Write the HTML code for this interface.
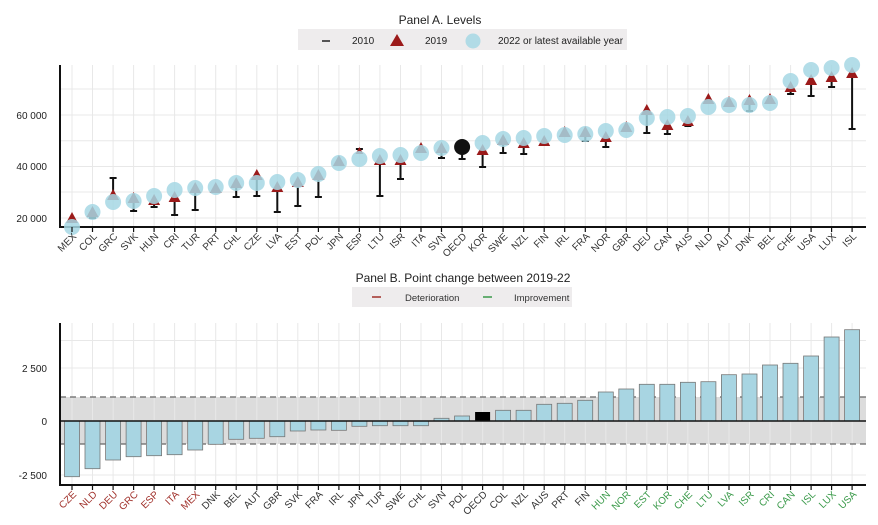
<!DOCTYPE html>
<html><head><meta charset="utf-8"><style>
body{margin:0;background:#fff;}
svg{display:block;font-family:"Liberation Sans",Arial,sans-serif;}
.g{stroke:#e8e8e8;stroke-width:1}
.lab{font-size:10px;fill:#333;text-anchor:end}
.r{fill:#a0302a}.gr{fill:#3a9a4a}
.tri{fill:#9b1a1a}
.c{fill:#a6d8e4;opacity:.85}
.st{stroke:#111;stroke-width:2}
.bar{fill:#a8d5e2;stroke:#777;stroke-width:.8}
</style></head><body>
<svg width="878" height="525" viewBox="0 0 878 525">
<text x="440" y="24" font-size="12" text-anchor="middle" fill="#222">Panel A. Levels</text>
<rect x="298" y="29" width="329" height="21" fill="#eeeced"/>
<line x1="322" y1="41" x2="330" y2="41" stroke="#222" stroke-width="1.5"/>
<text x="352" y="44" font-size="10" fill="#222">2010</text>
<path d="M397,34 L404,46 L390,46Z" class="tri"/>
<text x="425" y="44" font-size="10" fill="#222">2019</text>
<circle cx="473" cy="41" r="7.5" class="c"/>
<text x="498" y="44" font-size="10" fill="#222">2022  or latest available year</text>
<g class="g">
<line x1="60" y1="218" x2="866" y2="218"/><line x1="60" y1="192" x2="866" y2="192"/><line x1="60" y1="166.5" x2="866" y2="166.5"/><line x1="60" y1="140.7" x2="866" y2="140.7"/><line x1="60" y1="115" x2="866" y2="115"/><line x1="60" y1="89" x2="866" y2="89"/>
<line x1="72" y1="65" x2="72" y2="227"/><line x1="92.5" y1="65" x2="92.5" y2="227"/><line x1="113.1" y1="65" x2="113.1" y2="227"/><line x1="133.6" y1="65" x2="133.6" y2="227"/><line x1="154.1" y1="65" x2="154.1" y2="227"/><line x1="174.6" y1="65" x2="174.6" y2="227"/><line x1="195.2" y1="65" x2="195.2" y2="227"/><line x1="215.7" y1="65" x2="215.7" y2="227"/><line x1="236.2" y1="65" x2="236.2" y2="227"/><line x1="256.8" y1="65" x2="256.8" y2="227"/><line x1="277.3" y1="65" x2="277.3" y2="227"/><line x1="297.8" y1="65" x2="297.8" y2="227"/><line x1="318.4" y1="65" x2="318.4" y2="227"/><line x1="338.9" y1="65" x2="338.9" y2="227"/><line x1="359.4" y1="65" x2="359.4" y2="227"/><line x1="379.9" y1="65" x2="379.9" y2="227"/><line x1="400.5" y1="65" x2="400.5" y2="227"/><line x1="421" y1="65" x2="421" y2="227"/><line x1="441.5" y1="65" x2="441.5" y2="227"/><line x1="462.1" y1="65" x2="462.1" y2="227"/><line x1="482.6" y1="65" x2="482.6" y2="227"/><line x1="503.1" y1="65" x2="503.1" y2="227"/><line x1="523.7" y1="65" x2="523.7" y2="227"/><line x1="544.2" y1="65" x2="544.2" y2="227"/><line x1="564.7" y1="65" x2="564.7" y2="227"/><line x1="585.3" y1="65" x2="585.3" y2="227"/><line x1="605.8" y1="65" x2="605.8" y2="227"/><line x1="626.3" y1="65" x2="626.3" y2="227"/><line x1="646.8" y1="65" x2="646.8" y2="227"/><line x1="667.4" y1="65" x2="667.4" y2="227"/><line x1="687.9" y1="65" x2="687.9" y2="227"/><line x1="708.4" y1="65" x2="708.4" y2="227"/><line x1="729" y1="65" x2="729" y2="227"/><line x1="749.5" y1="65" x2="749.5" y2="227"/><line x1="770" y1="65" x2="770" y2="227"/><line x1="790.6" y1="65" x2="790.6" y2="227"/><line x1="811.1" y1="65" x2="811.1" y2="227"/><line x1="831.6" y1="65" x2="831.6" y2="227"/><line x1="852.1" y1="65" x2="852.1" y2="227"/>
</g>
<line x1="60" y1="65" x2="60" y2="228" stroke="#111" stroke-width="2"/>
<line x1="59" y1="227" x2="866" y2="227" stroke="#111" stroke-width="2"/>
<g font-size="10" fill="#222" text-anchor="end">
<text x="47" y="222">20 000</text><text x="47" y="170">40 000</text><text x="47" y="119">60 000</text>
</g>
<g class="st">
<line x1="92.5" y1="218" x2="92.5" y2="212"/><line x1="89" y1="218" x2="96" y2="218"/>
<line x1="113.1" y1="178" x2="113.1" y2="195"/><line x1="109.6" y1="178" x2="116.6" y2="178"/>
<line x1="133.6" y1="211" x2="133.6" y2="198"/><line x1="130.1" y1="211" x2="137.1" y2="211"/>
<line x1="154.1" y1="207" x2="154.1" y2="200"/><line x1="150.6" y1="207" x2="157.6" y2="207"/>
<line x1="174.6" y1="215" x2="174.6" y2="197"/><line x1="171.1" y1="215" x2="178.1" y2="215"/>
<line x1="195.2" y1="210" x2="195.2" y2="188"/><line x1="191.7" y1="210" x2="198.7" y2="210"/>
<line x1="215.7" y1="192" x2="215.7" y2="188"/><line x1="212.2" y1="192" x2="219.2" y2="192"/>
<line x1="236.2" y1="197" x2="236.2" y2="183"/><line x1="232.7" y1="197" x2="239.7" y2="197"/>
<line x1="256.8" y1="196" x2="256.8" y2="175"/><line x1="253.3" y1="196" x2="260.3" y2="196"/>
<line x1="277.3" y1="212" x2="277.3" y2="187"/><line x1="273.8" y1="212" x2="280.8" y2="212"/>
<line x1="297.8" y1="206" x2="297.8" y2="182"/><line x1="294.3" y1="206" x2="301.3" y2="206"/>
<line x1="318.4" y1="197" x2="318.4" y2="175"/><line x1="314.9" y1="197" x2="321.9" y2="197"/>
<line x1="359.4" y1="149" x2="359.4" y2="152"/><line x1="355.9" y1="149" x2="362.9" y2="149"/>
<line x1="379.9" y1="196" x2="379.9" y2="160"/><line x1="376.4" y1="196" x2="383.4" y2="196"/>
<line x1="400.5" y1="179" x2="400.5" y2="160"/><line x1="397" y1="179" x2="404" y2="179"/>
<line x1="441.5" y1="158" x2="441.5" y2="148"/><line x1="438" y1="158" x2="445" y2="158"/>
<line x1="462.1" y1="159" x2="462.1" y2="147"/><line x1="458.6" y1="159" x2="465.6" y2="159"/>
<line x1="482.6" y1="167" x2="482.6" y2="150"/><line x1="479.1" y1="167" x2="486.1" y2="167"/>
<line x1="503.1" y1="153" x2="503.1" y2="140"/><line x1="499.6" y1="153" x2="506.6" y2="153"/>
<line x1="523.7" y1="154" x2="523.7" y2="143"/><line x1="520.2" y1="154" x2="527.2" y2="154"/>
<line x1="585.3" y1="141" x2="585.3" y2="132"/><line x1="581.8" y1="141" x2="588.8" y2="141"/>
<line x1="605.8" y1="147" x2="605.8" y2="137"/><line x1="602.3" y1="147" x2="609.3" y2="147"/>
<line x1="646.8" y1="133" x2="646.8" y2="110"/><line x1="643.3" y1="133" x2="650.3" y2="133"/>
<line x1="667.4" y1="134" x2="667.4" y2="125"/><line x1="663.9" y1="134" x2="670.9" y2="134"/>
<line x1="687.9" y1="126" x2="687.9" y2="121"/><line x1="684.4" y1="126" x2="691.4" y2="126"/>
<line x1="749.5" y1="111" x2="749.5" y2="100"/><line x1="746" y1="111" x2="753" y2="111"/>
<line x1="790.6" y1="94" x2="790.6" y2="87"/><line x1="787.1" y1="94" x2="794.1" y2="94"/>
<line x1="811.1" y1="96" x2="811.1" y2="80"/><line x1="807.6" y1="96" x2="814.6" y2="96"/>
<line x1="831.6" y1="87" x2="831.6" y2="77"/><line x1="828.1" y1="87" x2="835.1" y2="87"/>
<line x1="852.1" y1="129" x2="852.1" y2="73"/><line x1="848.6" y1="129" x2="855.6" y2="129"/>
</g>
<g class="tri">
<path d="M72,212l6,11h-12z"/><path d="M92.5,206l6,11h-12z"/><path d="M113.1,189l6,11h-12z"/><path d="M133.6,192l6,11h-12z"/><path d="M154.1,194l6,11h-12z"/><path d="M174.6,191l6,11h-12z"/><path d="M195.2,182l6,11h-12z"/><path d="M215.7,182l6,11h-12z"/><path d="M236.2,177l6,11h-12z"/><path d="M256.8,169l6,11h-12z"/><path d="M277.3,181l6,11h-12z"/><path d="M297.8,176l6,11h-12z"/><path d="M318.4,169l6,11h-12z"/><path d="M338.9,155l6,11h-12z"/><path d="M359.4,147l4,7h-8z"/><path d="M379.9,154l6,11h-12z"/><path d="M400.5,154l6,11h-12z"/><path d="M421,142l6,11h-12z"/><path d="M441.5,142l6,11h-12z"/><path d="M482.6,144l6,11h-12z"/><path d="M503.1,134l6,11h-12z"/><path d="M523.7,137l6,11h-12z"/><path d="M544.2,135l6,11h-12z"/><path d="M564.7,126l6,11h-12z"/><path d="M585.3,126l6,11h-12z"/><path d="M605.8,131l6,11h-12z"/><path d="M626.3,121l6,11h-12z"/><path d="M646.8,104l6,11h-12z"/><path d="M667.4,119l6,11h-12z"/><path d="M687.9,115l6,11h-12z"/><path d="M708.4,93l6,11h-12z"/><path d="M729,96l6,11h-12z"/><path d="M749.5,94l6,11h-12z"/><path d="M770,93l6,11h-12z"/><path d="M790.6,81l6,11h-12z"/><path d="M811.1,74l6,11h-12z"/><path d="M831.6,71l6,11h-12z"/><path d="M852.1,67l6,11h-12z"/>
</g>
<g class="c">
<circle cx="72" cy="227" r="8"/><circle cx="92.5" cy="212" r="8"/><circle cx="113.1" cy="202" r="8"/><circle cx="133.6" cy="201" r="8"/><circle cx="154.1" cy="196" r="8"/><circle cx="174.6" cy="190" r="8"/><circle cx="195.2" cy="188" r="8"/><circle cx="215.7" cy="187" r="8"/><circle cx="236.2" cy="183" r="8"/><circle cx="256.8" cy="183" r="8"/><circle cx="277.3" cy="182" r="8"/><circle cx="297.8" cy="180" r="8"/><circle cx="318.4" cy="174" r="8"/><circle cx="338.9" cy="163" r="8"/><circle cx="359.4" cy="159" r="8"/><circle cx="379.9" cy="156" r="8"/><circle cx="400.5" cy="155" r="8"/><circle cx="421" cy="153" r="8"/><circle cx="441.5" cy="148" r="8"/><circle cx="482.6" cy="143" r="8"/><circle cx="503.1" cy="139" r="8"/><circle cx="523.7" cy="138" r="8"/><circle cx="544.2" cy="136" r="8"/><circle cx="564.7" cy="135" r="8"/><circle cx="585.3" cy="134" r="8"/><circle cx="605.8" cy="131" r="8"/><circle cx="626.3" cy="130" r="8"/><circle cx="646.8" cy="118" r="8"/><circle cx="667.4" cy="117" r="8"/><circle cx="687.9" cy="116" r="8"/><circle cx="708.4" cy="107" r="8"/><circle cx="729" cy="105" r="8"/><circle cx="749.5" cy="105" r="8"/><circle cx="770" cy="103" r="8"/><circle cx="790.6" cy="81" r="8"/><circle cx="811.1" cy="70" r="8"/><circle cx="831.6" cy="68" r="8"/><circle cx="852.1" cy="65" r="8"/>
</g>
<circle cx="462.1" cy="147" r="8" fill="#111"/>
<path d="M72,227v5M92.5,227v5M113.1,227v5M133.6,227v5M154.1,227v5M174.6,227v5M195.2,227v5M215.7,227v5M236.2,227v5M256.8,227v5M277.3,227v5M297.8,227v5M318.4,227v5M338.9,227v5M359.4,227v5M379.9,227v5M400.5,227v5M421,227v5M441.5,227v5M462.1,227v5M482.6,227v5M503.1,227v5M523.7,227v5M544.2,227v5M564.7,227v5M585.3,227v5M605.8,227v5M626.3,227v5M646.8,227v5M667.4,227v5M687.9,227v5M708.4,227v5M729,227v5M749.5,227v5M770,227v5M790.6,227v5M811.1,227v5M831.6,227v5M852.1,227v5" stroke="#111" stroke-width="1.2"/>
<g class="lab">
<text transform="translate(77,237) rotate(-45)">MEX</text><text transform="translate(97.5,237) rotate(-45)">COL</text><text transform="translate(118.1,237) rotate(-45)">GRC</text><text transform="translate(138.6,237) rotate(-45)">SVK</text><text transform="translate(159.1,237) rotate(-45)">HUN</text><text transform="translate(179.6,237) rotate(-45)">CRI</text><text transform="translate(200.2,237) rotate(-45)">TUR</text><text transform="translate(220.7,237) rotate(-45)">PRT</text><text transform="translate(241.2,237) rotate(-45)">CHL</text><text transform="translate(261.8,237) rotate(-45)">CZE</text><text transform="translate(282.3,237) rotate(-45)">LVA</text><text transform="translate(302.8,237) rotate(-45)">EST</text><text transform="translate(323.4,237) rotate(-45)">POL</text><text transform="translate(343.9,237) rotate(-45)">JPN</text><text transform="translate(364.4,237) rotate(-45)">ESP</text><text transform="translate(384.9,237) rotate(-45)">LTU</text><text transform="translate(405.5,237) rotate(-45)">ISR</text><text transform="translate(426,237) rotate(-45)">ITA</text><text transform="translate(446.5,237) rotate(-45)">SVN</text><text transform="translate(467.1,237) rotate(-45)">OECD</text><text transform="translate(487.6,237) rotate(-45)">KOR</text><text transform="translate(508.1,237) rotate(-45)">SWE</text><text transform="translate(528.7,237) rotate(-45)">NZL</text><text transform="translate(549.2,237) rotate(-45)">FIN</text><text transform="translate(569.7,237) rotate(-45)">IRL</text><text transform="translate(590.3,237) rotate(-45)">FRA</text><text transform="translate(610.8,237) rotate(-45)">NOR</text><text transform="translate(631.3,237) rotate(-45)">GBR</text><text transform="translate(651.8,237) rotate(-45)">DEU</text><text transform="translate(672.4,237) rotate(-45)">CAN</text><text transform="translate(692.9,237) rotate(-45)">AUS</text><text transform="translate(713.4,237) rotate(-45)">NLD</text><text transform="translate(734,237) rotate(-45)">AUT</text><text transform="translate(754.5,237) rotate(-45)">DNK</text><text transform="translate(775,237) rotate(-45)">BEL</text><text transform="translate(795.6,237) rotate(-45)">CHE</text><text transform="translate(816.1,237) rotate(-45)">USA</text><text transform="translate(836.6,237) rotate(-45)">LUX</text><text transform="translate(857.1,237) rotate(-45)">ISL</text>
</g>

<text x="463" y="282" font-size="12" text-anchor="middle" fill="#222">Panel B. Point change between 2019-22</text>
<rect x="352" y="287" width="220" height="20" fill="#eeeced"/>
<line x1="372" y1="297" x2="381" y2="297" stroke="#a0302a" stroke-width="1.5"/>
<text x="405" y="301" font-size="9.5" fill="#333">Deterioration</text>
<line x1="483" y1="297" x2="492" y2="297" stroke="#3a9a4a" stroke-width="1.5"/>
<text x="514" y="301" font-size="9.5" fill="#333">Improvement</text>
<rect x="60" y="397" width="806" height="47" fill="#dcdcdc"/>
<g class="g">
<line x1="60" y1="340.5" x2="866" y2="340.5"/><line x1="60" y1="368" x2="866" y2="368"/><line x1="60" y1="475" x2="866" y2="475"/>
<line x1="72" y1="323" x2="72" y2="485"/><line x1="92.5" y1="323" x2="92.5" y2="485"/><line x1="113.1" y1="323" x2="113.1" y2="485"/><line x1="133.6" y1="323" x2="133.6" y2="485"/><line x1="154.1" y1="323" x2="154.1" y2="485"/><line x1="174.6" y1="323" x2="174.6" y2="485"/><line x1="195.2" y1="323" x2="195.2" y2="485"/><line x1="215.7" y1="323" x2="215.7" y2="485"/><line x1="236.2" y1="323" x2="236.2" y2="485"/><line x1="256.8" y1="323" x2="256.8" y2="485"/><line x1="277.3" y1="323" x2="277.3" y2="485"/><line x1="297.8" y1="323" x2="297.8" y2="485"/><line x1="318.4" y1="323" x2="318.4" y2="485"/><line x1="338.9" y1="323" x2="338.9" y2="485"/><line x1="359.4" y1="323" x2="359.4" y2="485"/><line x1="379.9" y1="323" x2="379.9" y2="485"/><line x1="400.5" y1="323" x2="400.5" y2="485"/><line x1="421" y1="323" x2="421" y2="485"/><line x1="441.5" y1="323" x2="441.5" y2="485"/><line x1="462.1" y1="323" x2="462.1" y2="485"/><line x1="482.6" y1="323" x2="482.6" y2="485"/><line x1="503.1" y1="323" x2="503.1" y2="485"/><line x1="523.7" y1="323" x2="523.7" y2="485"/><line x1="544.2" y1="323" x2="544.2" y2="485"/><line x1="564.7" y1="323" x2="564.7" y2="485"/><line x1="585.3" y1="323" x2="585.3" y2="485"/><line x1="605.8" y1="323" x2="605.8" y2="485"/><line x1="626.3" y1="323" x2="626.3" y2="485"/><line x1="646.8" y1="323" x2="646.8" y2="485"/><line x1="667.4" y1="323" x2="667.4" y2="485"/><line x1="687.9" y1="323" x2="687.9" y2="485"/><line x1="708.4" y1="323" x2="708.4" y2="485"/><line x1="729" y1="323" x2="729" y2="485"/><line x1="749.5" y1="323" x2="749.5" y2="485"/><line x1="770" y1="323" x2="770" y2="485"/><line x1="790.6" y1="323" x2="790.6" y2="485"/><line x1="811.1" y1="323" x2="811.1" y2="485"/><line x1="831.6" y1="323" x2="831.6" y2="485"/><line x1="852.1" y1="323" x2="852.1" y2="485"/>
</g>
<line x1="60" y1="397" x2="866" y2="397" stroke="#666" stroke-width="1.2" stroke-dasharray="6,4"/>
<line x1="60" y1="444" x2="866" y2="444" stroke="#666" stroke-width="1.2" stroke-dasharray="6,4"/>
<g class="bar">
<rect x="64.5" y="421" width="15" height="55.7"/><rect x="85" y="421" width="15" height="47.7"/><rect x="105.6" y="421" width="15" height="39"/><rect x="126.1" y="421" width="15" height="35.7"/><rect x="146.6" y="421" width="15" height="34.7"/><rect x="167.1" y="421" width="15" height="33.7"/><rect x="187.7" y="421" width="15" height="29"/><rect x="208.2" y="421" width="15" height="23.3"/><rect x="228.7" y="421" width="15" height="18.3"/><rect x="249.3" y="421" width="15" height="17.3"/><rect x="269.8" y="421" width="15" height="15.7"/><rect x="290.3" y="421" width="15" height="10"/><rect x="310.9" y="421" width="15" height="9"/><rect x="331.4" y="421" width="15" height="9.3"/><rect x="351.9" y="421" width="15" height="5.3"/><rect x="372.4" y="421" width="15" height="4.7"/><rect x="393" y="421" width="15" height="4.7"/><rect x="413.5" y="421" width="15" height="4.7"/>
<rect x="434" y="418.3" width="15" height="2.7"/><rect x="454.6" y="416" width="15" height="5"/>
<rect x="495.6" y="410.3" width="15" height="10.7"/><rect x="516.1" y="410.3" width="15" height="10.7"/><rect x="536.7" y="404.3" width="15" height="16.7"/><rect x="557.2" y="403.3" width="15" height="17.7"/><rect x="577.7" y="400.3" width="15" height="20.7"/><rect x="598.3" y="392" width="15" height="29"/><rect x="618.8" y="389" width="15" height="32"/><rect x="639.3" y="384.3" width="15" height="36.7"/><rect x="659.8" y="384.3" width="15" height="36.7"/><rect x="680.4" y="382.3" width="15" height="38.7"/><rect x="700.9" y="381.7" width="15" height="39.3"/><rect x="721.4" y="374.7" width="15" height="46.3"/><rect x="742" y="374" width="15" height="47"/><rect x="762.5" y="365" width="15" height="56"/><rect x="783" y="363.3" width="15" height="57.7"/><rect x="803.6" y="356" width="15" height="65"/><rect x="824.1" y="337" width="15" height="84"/><rect x="844.6" y="329.7" width="15" height="91.3"/>
</g>
<rect x="475.1" y="412" width="15" height="9" fill="#000"/>
<line x1="60" y1="421" x2="866" y2="421" stroke="#111" stroke-width="1.5"/>
<line x1="60" y1="323" x2="60" y2="486" stroke="#111" stroke-width="2"/>
<line x1="59" y1="485" x2="866" y2="485" stroke="#111" stroke-width="2"/>
<g font-size="10" fill="#222" text-anchor="end">
<text x="47" y="372">2 500</text><text x="47" y="425">0</text><text x="47" y="479">-2 500</text>
</g>
<path d="M72,485v5M92.5,485v5M113.1,485v5M133.6,485v5M154.1,485v5M174.6,485v5M195.2,485v5M215.7,485v5M236.2,485v5M256.8,485v5M277.3,485v5M297.8,485v5M318.4,485v5M338.9,485v5M359.4,485v5M379.9,485v5M400.5,485v5M421,485v5M441.5,485v5M462.1,485v5M482.6,485v5M503.1,485v5M523.7,485v5M544.2,485v5M564.7,485v5M585.3,485v5M605.8,485v5M626.3,485v5M646.8,485v5M667.4,485v5M687.9,485v5M708.4,485v5M729,485v5M749.5,485v5M770,485v5M790.6,485v5M811.1,485v5M831.6,485v5M852.1,485v5" stroke="#111" stroke-width="1.2"/>
<g class="lab">
<text class="r" transform="translate(77,495) rotate(-45)">CZE</text><text class="r" transform="translate(97.5,495) rotate(-45)">NLD</text><text class="r" transform="translate(118.1,495) rotate(-45)">DEU</text><text class="r" transform="translate(138.6,495) rotate(-45)">GRC</text><text class="r" transform="translate(159.1,495) rotate(-45)">ESP</text><text class="r" transform="translate(179.6,495) rotate(-45)">ITA</text><text class="r" transform="translate(200.2,495) rotate(-45)">MEX</text><text transform="translate(220.7,495) rotate(-45)">DNK</text><text transform="translate(241.2,495) rotate(-45)">BEL</text><text transform="translate(261.8,495) rotate(-45)">AUT</text><text transform="translate(282.3,495) rotate(-45)">GBR</text><text transform="translate(302.8,495) rotate(-45)">SVK</text><text transform="translate(323.4,495) rotate(-45)">FRA</text><text transform="translate(343.9,495) rotate(-45)">IRL</text><text transform="translate(364.4,495) rotate(-45)">JPN</text><text transform="translate(384.9,495) rotate(-45)">TUR</text><text transform="translate(405.5,495) rotate(-45)">SWE</text><text transform="translate(426,495) rotate(-45)">CHL</text><text transform="translate(446.5,495) rotate(-45)">SVN</text><text transform="translate(467.1,495) rotate(-45)">POL</text><text transform="translate(487.6,495) rotate(-45)">OECD</text><text transform="translate(508.1,495) rotate(-45)">COL</text><text transform="translate(528.7,495) rotate(-45)">NZL</text><text transform="translate(549.2,495) rotate(-45)">AUS</text><text transform="translate(569.7,495) rotate(-45)">PRT</text><text transform="translate(590.3,495) rotate(-45)">FIN</text><text class="gr" transform="translate(610.8,495) rotate(-45)">HUN</text><text class="gr" transform="translate(631.3,495) rotate(-45)">NOR</text><text class="gr" transform="translate(651.8,495) rotate(-45)">EST</text><text class="gr" transform="translate(672.4,495) rotate(-45)">KOR</text><text class="gr" transform="translate(692.9,495) rotate(-45)">CHE</text><text class="gr" transform="translate(713.4,495) rotate(-45)">LTU</text><text class="gr" transform="translate(734,495) rotate(-45)">LVA</text><text class="gr" transform="translate(754.5,495) rotate(-45)">ISR</text><text class="gr" transform="translate(775,495) rotate(-45)">CRI</text><text class="gr" transform="translate(795.6,495) rotate(-45)">CAN</text><text class="gr" transform="translate(816.1,495) rotate(-45)">ISL</text><text class="gr" transform="translate(836.6,495) rotate(-45)">LUX</text><text class="gr" transform="translate(857.1,495) rotate(-45)">USA</text>
</g>
</svg>
</body></html>
